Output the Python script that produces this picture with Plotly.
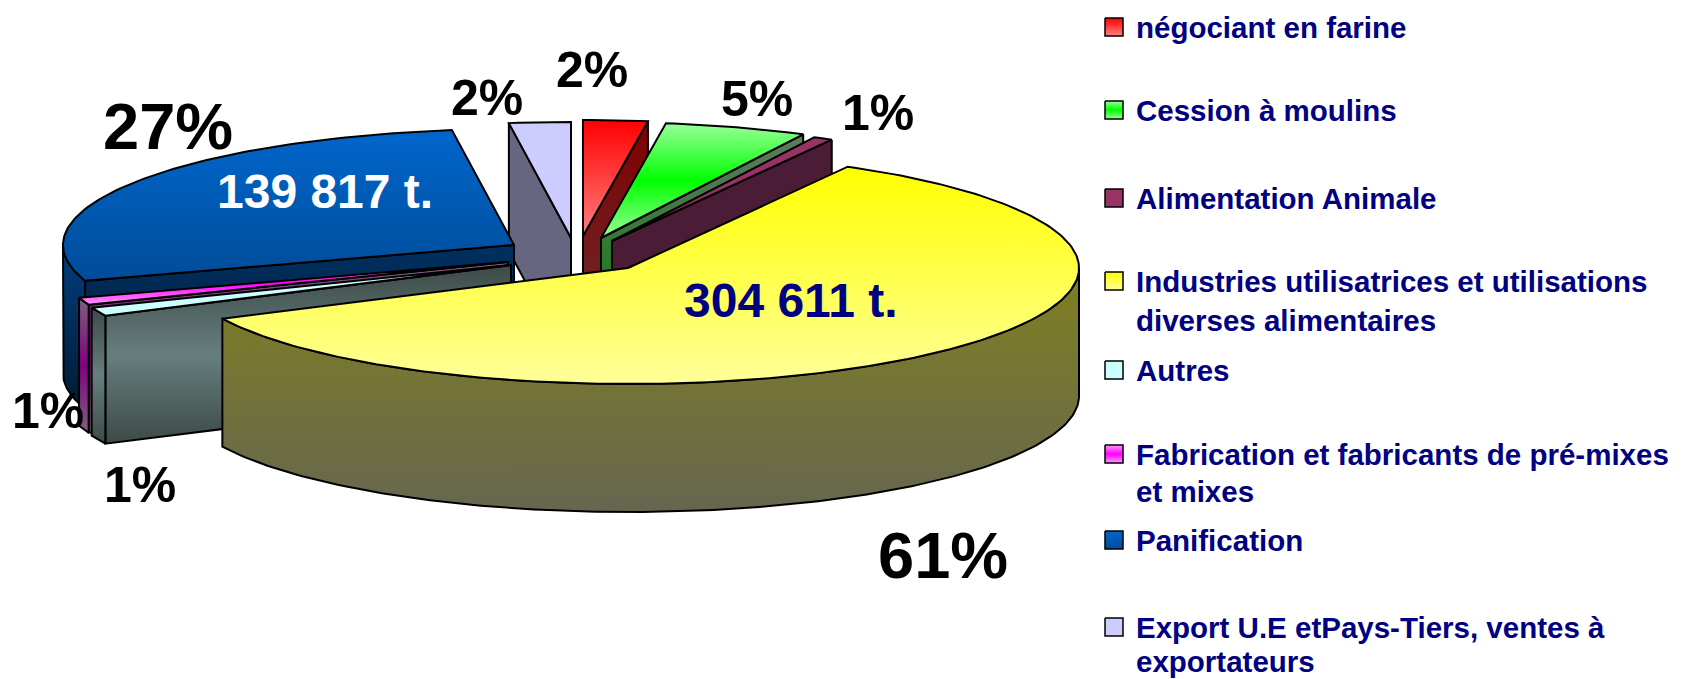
import math
import plotly.graph_objects as go

# ---- data (clockwise from 12 o'clock) ----
categories = ["négociant en farine", "Cession à moulins", "Alimentation Animale",
              "Industries utilisatrices et utilisations\ndiverses alimentaires", "Autres",
              "Fabrication et fabricants de pré-mixes\net mixes", "Panification",
              "Export U.E etPays-Tiers, ventes à\nexportateurs"]
shares = [2.3, 5.1, 0.7, 59.7, 1.2, 1.0, 27.8, 2.2]
percent_labels = ["2%", "5%", "1%", "61%", "1%", "1%", "27%", "2%"]
tonnage_labels = {3: "304 611 t.", 6: "139 817 t."}

# ---- layout / style ----
W, H = 1683, 679
PAGE_MARGIN = 8
RX, RY, DEPTH = 451, 116, 128
apex = [(583, 236), (601, 238), (612, 241), (628, 268), (511, 265), (508, 262), (514, 245), (571, 238)]
draw_order = [7, 0, 1, 2, 6, 5, 4, 3]


def ramp(*cols):
    # listed from the top of a face to its bottom; the fill gradient runs bottom to top
    cols = cols[::-1]
    return [[i / (len(cols) - 1), c] for i, c in enumerate(cols)]


top_fill = [ramp("#ff0000", "#ff8080"), ramp("#99ff99", "#00ff00", "#99ff99"), ramp("#993366", "#993366"),
            ramp("#ffff00", "#ffff99"), ramp("#ccffff", "#ccffff"), ramp("#ff99ff", "#ff00ff", "#ff99ff"),
            ramp("#0066cc", "#004c99"), ramp("#ccccff", "#ccccff")]
cut_fill = [ramp("#800000", "#663333"), ramp("#5f7a5f", "#007a00"), ramp("#4a1c35", "#4a1c35"),
            ramp("#808020", "#666650"), ramp("#3d4a47", "#667f7e", "#3d4a47"), ramp("#806080", "#800080", "#806080"),
            ramp("#003060", "#001830"), ramp("#666680", "#666680")]
wall_fill = [c for c in cut_fill]
wall_fill[6] = ramp("#004080", "#001a33")
legend_y = [[27], [110], [198], [281, 320], [370], [454, 491], [540], [627, 661]]
label_pos = [(592, 70), (757, 99), (878, 113), (943, 555), (140, 485), (48, 411), (168, 126), (487, 98)]
label_size = [50, 50, 50, 65, 50, 50, 65, 50]
tonnage_pos = {3: (791, 300), 6: (325, 191)}
tonnage_col = {3: "#000080", 6: "#ffffff"}
FONT = "Liberation Sans"

fig = go.Figure()


def poly(xs, ys, scale, width=2):
    fig.add_trace(go.Scatter(x=xs + xs[:1], y=ys + ys[:1], mode="lines", fill="toself",
                             line=dict(color="#000000", width=width), hoverinfo="skip", showlegend=False,
                             fillgradient=dict(type="vertical", colorscale=scale)))


def pt(i, deg, drop=0):
    a = math.radians(deg)
    return apex[i][0] + RX * math.sin(a), apex[i][1] - RY * math.cos(a) + drop


total = sum(shares)
starts, acc = [], 0.0
for s in shares:
    starts.append(acc)
    acc += s / total * 360


def cut(i, deg):
    ox, oy = pt(i, deg)
    ax, ay = apex[i]
    poly([ox, ax, ax, ox], [oy, ay, ay + DEPTH, oy + DEPTH], cut_fill[i])


for i in draw_order:
    a0, a1 = starts[i], starts[i] + shares[i] / total * 360
    if math.sin(math.radians(a0)) < -1e-6:
        cut(i, a0)
    if math.sin(math.radians(a1)) > 1e-6:
        cut(i, a1)
    w0, w1 = max(a0, 90), min(a1, 270)
    if w1 > w0:
        n = max(int(w1 - w0), 2)
        arc = [pt(i, w0 + (w1 - w0) * k / n) for k in range(n + 1)]
        low = [pt(i, w1 - (w1 - w0) * k / n, DEPTH) for k in range(n + 1)]
        poly([p[0] for p in arc + low], [p[1] for p in arc + low], wall_fill[i])
    n = max(int(a1 - a0), 3)
    arc = [pt(i, a0 + (a1 - a0) * k / n) for k in range(n + 1)]
    poly([apex[i][0]] + [p[0] for p in arc], [apex[i][1]] + [p[1] for p in arc], top_fill[i])

annotations = []
for i, txt in enumerate(percent_labels):
    x, y = label_pos[i]
    annotations.append(dict(x=x, y=y, text=txt, showarrow=False, xanchor="center", yanchor="middle",
                            font=dict(family=FONT, size=label_size[i], color="#000000", weight=700)))
for i, txt in tonnage_labels.items():
    x, y = tonnage_pos[i]
    annotations.append(dict(x=x, y=y, text=txt, showarrow=False, xanchor="center", yanchor="middle",
                            font=dict(family=FONT, size=48, color=tonnage_col[i], weight=700)))
for i, cat in enumerate(categories):
    y0 = legend_y[i][0]
    poly([1105, 1123, 1123, 1105], [y0 - 9, y0 - 9, y0 + 9, y0 + 9], top_fill[i], width=1.5)
    for line, y in zip(cat.split("\n"), legend_y[i]):
        annotations.append(dict(x=1134, y=y, text=line, showarrow=False, xanchor="left", yanchor="middle",
                                font=dict(family=FONT, size=29.5, color="#000080", weight=700)))

fig.update_layout(width=W - PAGE_MARGIN - 1, height=H - PAGE_MARGIN - 1, margin=dict(l=0, r=0, t=0, b=0),
                  paper_bgcolor="#ffffff", plot_bgcolor="#ffffff", showlegend=False, annotations=annotations,
                  xaxis=dict(range=[PAGE_MARGIN, W - 1], visible=False, fixedrange=True),
                  yaxis=dict(range=[H - 1, PAGE_MARGIN], visible=False, fixedrange=True))
fig.write_html("out.html", config=dict(displayModeBar=False))
